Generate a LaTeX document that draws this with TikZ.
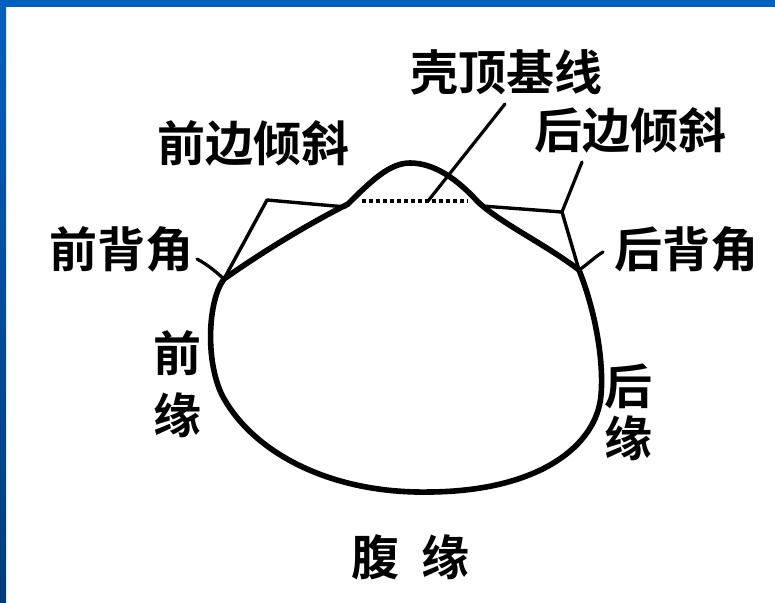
\documentclass[tikz,border=0pt]{standalone}
\usepackage{fontspec}
\newfontfamily\cjk{Noto Sans CJK SC}[BoldFont={Noto Sans CJK SC Bold}]
\definecolor{frameblue}{HTML}{0060C0}
\definecolor{frameblueDark}{HTML}{003C7C}
\begin{document}
\begin{tikzpicture}[x=1pt,y=-1pt,
  outline/.style={line width=5.6pt,line join=round,line cap=round},
  bracket/.style={line width=3.4pt,line join=round,line cap=round},
  leader/.style={line width=3.2pt,line cap=round},
  baseline/.style={line width=3.4pt,dash pattern=on 4pt off 3pt},
  lbl/.style={font=\cjk\bfseries\fontsize{48}{48}\selectfont,inner sep=0pt}]
\useasboundingbox (0,0) rectangle (775,602);
\fill[white] (0,0) rectangle (775,602);
% slide frame
\shade[top color=frameblue,bottom color=frameblueDark] (0,0) rectangle (6,602);
\fill[frameblue] (0,0) rectangle (775,7);

% key points of the shell outline
\coordinate (A) at (224,279);  % anterior dorsal angle
\coordinate (B) at (348,204);  % foot of the umbo, front
\coordinate (P) at (410,163);  % umbo
\coordinate (C) at (478,202);  % foot of the umbo, back
\coordinate (D) at (579,270);  % posterior dorsal angle

% shell outline
\draw[outline] (A) .. controls (265,250) and (312,222) .. (B)
  .. controls (372,180) and (390,163) .. (P)
  .. controls (435,163) and (458,180) .. (C)
  .. controls (502,224) and (545,244) .. (D)
  .. controls (595,310) and (604,360) .. (601,395)
  .. controls (597,445) and (540,491) .. (430,492)
  .. controls (330,494) and (252,452) .. (222,395)
  .. controls (205,360) and (208,300) .. (A);

% umbo baseline
\coordinate (bl1) at (362,201);
\coordinate (bl2) at (468,201);
\draw[baseline] (bl1) -- (bl2);
\coordinate (blm) at (428,201);

% slope brackets
\coordinate (J1) at (267,200);
\coordinate (J1e) at (346,207);
\draw[bracket] (A) -- (J1) -- (J1e);
\coordinate (J2) at (562,212);
\coordinate (J2e) at (482,206);
\draw[bracket] (D) -- (J2) -- (J2e);

% labels
\node[lbl] (top) at (506,72) {壳顶基线};
\node[lbl] (fslope) at (253,143) {前边倾斜};
\node[lbl] (bslope) at (630,130) {后边倾斜};
\node[lbl] (fangle) at (121,249) {前背角};
\node[lbl] (bangle) at (686,249) {后背角};
\node[lbl] (fm1) at (177,353) {前};
\node[lbl] (fm2) at (177,415) {缘};
\node[lbl] (bm1) at (628,386) {后};
\node[lbl] (bm2) at (628,438) {缘};
\node[lbl] (vm1) at (375,557) {腹};
\node[lbl] (vm2) at (445,557) {缘};

% leaders
\coordinate (t1) at (505,104);
\draw[leader] (t1) -- (blm);
\coordinate (s2) at (582,162);
\draw[leader] (s2) -- (J2);
\coordinate (fa) at (197,259);
\draw[leader] (fa) .. controls (208,265) and (215,271) .. (A);
\coordinate (ba) at (603,252);
\draw[leader] (ba) .. controls (596,256) and (588,264) .. (D);
\end{tikzpicture}
\end{document}
